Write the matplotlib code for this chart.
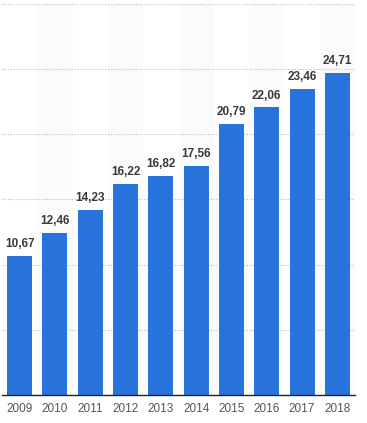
import matplotlib
matplotlib.use("Agg")
import matplotlib.pyplot as plt

# data
years = ["2009", "2010", "2011", "2012", "2013", "2014", "2015", "2016", "2017", "2018"]
values = [10.67, 12.46, 14.23, 16.22, 16.82, 17.56, 20.79, 22.06, 23.46, 24.71]
grid_ticks = [5, 10, 15, 20, 25, 30]

W, H = 367, 423
fig = plt.figure(figsize=(W / 100, H / 100), dpi=100)
ax = fig.add_axes([2 / W, 28 / H, 353 / W, 391 / H])

# faint alternating column stripes
for i in range(len(years)):
    if i % 2 == 1:
        ax.axvspan(i - 0.5, i + 0.5, color="#fbfbfb", zorder=0, lw=0)

for t in grid_ticks:
    ax.axhline(t, color="#bbbbbb", lw=0.8, ls=(0, (1, 1.5)), zorder=1)

x = range(len(years))
ax.bar(x, values, width=0.71, color="#2874dc", zorder=2)

for i, v in enumerate(values):
    ax.text(i, v + 0.45, f"{v:.2f}".replace(".", ","), ha="center", va="bottom",
            fontsize=8.5, fontweight="bold", color="#3a3a3a",
            family="Liberation Sans")

ax.set_xlim(-0.5, len(years) - 0.5)
ax.set_ylim(0, 30)
ax.set_xticks(list(x))
ax.set_xticklabels(years, fontsize=8.5, color="#555555", family="Liberation Sans")
ax.tick_params(axis="x", length=0, pad=6)
ax.set_yticks([])
for s in ["top", "right", "left"]:
    ax.spines[s].set_visible(False)
ax.spines["bottom"].set_color("#222222")
ax.spines["bottom"].set_linewidth(1)
ax.spines["bottom"].set_zorder(3)

fig.savefig("out.png", dpi=100)
